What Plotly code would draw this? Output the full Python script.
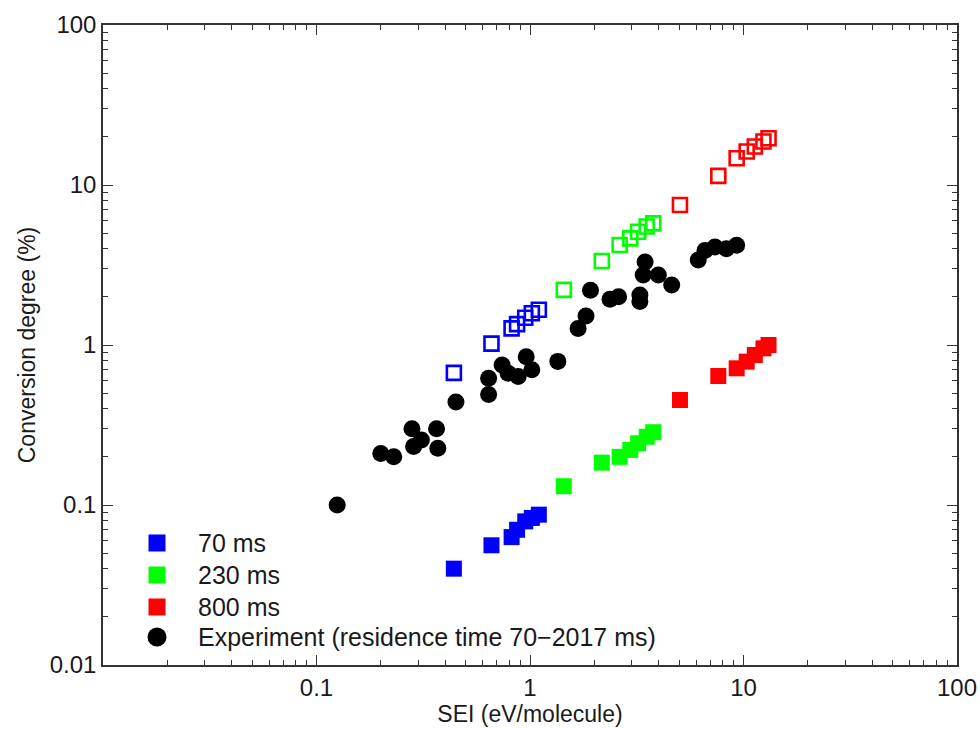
import plotly.graph_objects as go

# SEI (eV/molecule) for simulated points
sei_70 = [0.44, 0.66, 0.82, 0.87, 0.95, 1.02, 1.10]
sei_230 = [1.44, 2.17, 2.63, 2.95, 3.21, 3.52, 3.78]
sei_800 = [5.04, 7.62, 9.29, 10.35, 11.3, 12.4, 13.1]

# Filled squares (lower series)
conv_70_filled = [0.040, 0.056, 0.063, 0.070, 0.079, 0.083, 0.087]
conv_230_filled = [0.131, 0.184, 0.200, 0.221, 0.243, 0.267, 0.285]
conv_800_filled = [0.453, 0.640, 0.715, 0.787, 0.866, 0.953, 1.00]

# Open squares (upper series)
conv_70_open = [0.67, 1.02, 1.27, 1.35, 1.48, 1.58, 1.66]
conv_230_open = [2.21, 3.35, 4.22, 4.64, 5.10, 5.50, 5.76]
conv_800_open = [7.5, 11.4, 14.7, 16.2, 17.4, 18.7, 19.6]

# Experiment
exp_sei = [0.125, 0.20, 0.23, 0.28, 0.31, 0.285, 0.365, 0.37, 0.45, 0.64, 0.64,
           0.74, 0.79, 0.88, 0.96, 1.02, 1.35, 1.68, 1.83, 1.92, 2.37, 2.6,
           3.27, 3.27, 3.46, 3.39, 3.99, 4.61, 6.14, 6.6, 7.35, 8.32, 9.29]
exp_conv = [0.10, 0.21, 0.20, 0.30, 0.255, 0.232, 0.30, 0.226, 0.44, 0.49, 0.62,
            0.75, 0.665, 0.635, 0.845, 0.70, 0.79, 1.27, 1.52, 2.2, 1.93, 2.0,
            2.05, 1.87, 3.3, 2.74, 2.74, 2.37, 3.4, 3.9, 4.1, 4.0, 4.2]

x_tickvals = [0.01, 0.1, 1, 10, 100]
x_ticktext = ["", "0.1", "1", "10", "100"]
y_tickvals = [0.01, 0.1, 1, 10, 100]
y_ticktext = ["0.01", "0.1", "1", "10", "100"]
minor_vals = [m * 10 ** e for e in range(-2, 2) for m in range(2, 10)]

legend_labels = ["70 ms", "230 ms", "800 ms", "Experiment (residence time 70\u22122017 ms)"]
legend_colors = ["#0000ff", "#00ff00", "#ff0000", "#000000"]
legend_shapes = ["rect", "rect", "rect", "circle"]

FONT = "Liberation Sans, Arial, sans-serif"
TXT = "#1a1a1a"

fig = go.Figure()

series = [
    ("70 ms", "#0000ff", sei_70, conv_70_filled, conv_70_open),
    ("230 ms", "#00ff00", sei_230, conv_230_filled, conv_230_open),
    ("800 ms", "#ff0000", sei_800, conv_800_filled, conv_800_open),
]
for name, col, xs, yf, yo in series:
    fig.add_trace(go.Scatter(
        x=xs, y=yo, mode="markers", name=name + " (open)", showlegend=False,
        marker=dict(symbol="square-open", size=14, color=col, line=dict(width=2.6, color=col)),
    ))
for name, col, xs, yf, yo in series:
    fig.add_trace(go.Scatter(
        x=xs, y=yf, mode="markers", name=name, showlegend=False,
        marker=dict(symbol="square", size=16, color=col, line=dict(width=0)),
    ))

fig.add_trace(go.Scatter(
    x=exp_sei, y=exp_conv, mode="markers",
    name=legend_labels[3], showlegend=False,
    marker=dict(symbol="circle", size=17, color="black", line=dict(width=0)),
))

# Legend (keys + labels) placed in paper coordinates
PLOT_L, PLOT_R, PLOT_T, PLOT_B = 103, 957, 25, 665
def px_to_paper(px, py):
    return (px - PLOT_L) / (PLOT_R - PLOT_L), (PLOT_B - py) / (PLOT_B - PLOT_T)

row_y = [543, 575, 607, 637]
key_x, text_x = 157, 196
for lab, col, shp, ry in zip(legend_labels, legend_colors, legend_shapes, row_y):
    kx, ky = px_to_paper(key_x, ry)
    half = 8.5 if shp == "rect" else 9.5
    fig.add_shape(
        type=shp, xref="paper", yref="paper", xsizemode="pixel", ysizemode="pixel",
        xanchor=kx, yanchor=ky, x0=-half, x1=half, y0=-half, y1=half,
        fillcolor=col, line=dict(width=0),
    )
    tx, ty = px_to_paper(text_x, ry)
    fig.add_annotation(
        x=tx, y=ty, xref="paper", yref="paper", text=lab, showarrow=False,
        xanchor="left", yanchor="middle", font=dict(family=FONT, size=25, color=TXT),
    )

axis_common = dict(
    type="log", showline=True, linecolor="#333333", linewidth=1.5, mirror="ticks",
    ticks="inside", ticklen=10, tickwidth=1.2, tickcolor="#333333",
    showgrid=False, zeroline=False, automargin=False,
    tickfont=dict(family=FONT, size=24, color=TXT),
    minor=dict(ticks="inside", ticklen=5, tickwidth=1, tickcolor="#333333",
               showgrid=False, tickmode="array", tickvals=minor_vals),
)

fig.update_xaxes(
    **axis_common, range=[-2, 2], tickmode="array", tickvals=x_tickvals, ticktext=x_ticktext,
    title=dict(text="SEI (eV/molecule)", font=dict(family=FONT, size=23, color=TXT), standoff=4),
)
fig.update_yaxes(
    **axis_common, range=[-2, 2], tickmode="array", tickvals=y_tickvals, ticktext=y_ticktext,
    title=dict(text="Conversion degree (%)", font=dict(family=FONT, size=23, color=TXT), standoff=8),
)

fig.update_layout(
    width=980, height=729,
    margin=dict(l=PLOT_L, r=980 - PLOT_R, t=PLOT_T, b=729 - PLOT_B),
    paper_bgcolor="white", plot_bgcolor="white",
    font=dict(family=FONT, size=24, color=TXT),
    showlegend=False,
)

fig.write_html("out.html")
